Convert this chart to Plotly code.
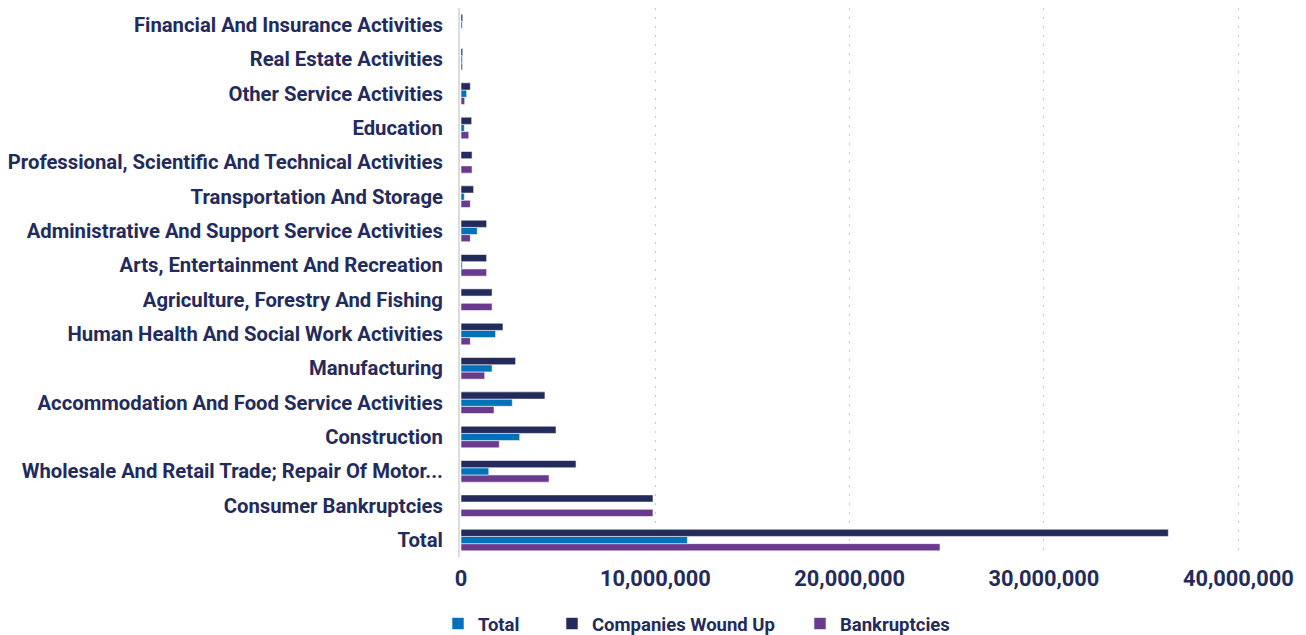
import plotly.graph_objects as go

# Categories listed from the bottom of the chart to the top
categories = [
    "Total",
    "Consumer Bankruptcies",
    "Wholesale And Retail Trade; Repair Of Motor...",
    "Construction",
    "Accommodation And Food Service Activities",
    "Manufacturing",
    "Human Health And Social Work Activities",
    "Agriculture, Forestry And Fishing",
    "Arts, Entertainment And Recreation",
    "Administrative And Support Service Activities",
    "Transportation And Storage",
    "Professional, Scientific And Technical Activities",
    "Education",
    "Other Service Activities",
    "Real Estate Activities",
    "Financial And Insurance Activities",
]

total = [11650000, 0, 1430000, 3020000, 2640000, 1600000, 1780000, 0,
         70000, 840000, 170000, 0, 170000, 290000, 70000, 70000]
companies_wound_up = [36400000, 9880000, 5920000, 4890000, 4320000, 2810000, 2160000, 1600000,
                      1320000, 1320000, 650000, 570000, 550000, 480000, 90000, 90000]
bankruptcies = [24650000, 9880000, 4530000, 1970000, 1700000, 1220000, 480000, 1600000,
                1320000, 480000, 480000, 570000, 400000, 190000, 80000, 0]

x_ticks = [0, 10000000, 20000000, 30000000, 40000000]

NAVY = "#232B5C"
BLUE = "#0072BB"
PURPLE = "#6A3A8E"
FONT = "Roboto"

W, H = 1306, 635
edge = dict(color="rgba(255,255,255,0.55)", width=1)

fig = go.Figure()
# Horizontal groups stack first trace at the bottom: Bankruptcies, Total, Companies Wound Up
fig.add_trace(go.Bar(y=categories, x=bankruptcies, name="Bankruptcies", orientation="h",
                     marker=dict(color=PURPLE, line=edge), legend="legend3"))
fig.add_trace(go.Bar(y=categories, x=total, name="Total", orientation="h",
                     marker=dict(color=BLUE, line=edge), legend="legend"))
fig.add_trace(go.Bar(y=categories, x=companies_wound_up, name="Companies Wound Up", orientation="h",
                     marker=dict(color=NAVY, line=edge), legend="legend2"))

plot_left, plot_right = 460, 1300
plot_top, plot_bottom = 7.8, 557.2
px_per_unit = (1238.3 - 461) / 40000000
x_max = (plot_right - 461) / px_per_unit

legend_common = dict(orientation="h", yanchor="middle", y=(H - 624) / H, xanchor="left",
                     font=dict(family=FONT, size=18.5, color=NAVY, weight="bold"),
                     bgcolor="rgba(0,0,0,0)", borderwidth=0, itemclick=False)

fig.update_layout(
    width=W, height=H,
    margin=dict(l=0, r=0, t=0, b=0, autoexpand=False),
    paper_bgcolor="white", plot_bgcolor="white",
    barmode="group", bargap=0.37, bargroupgap=0,
    font=dict(family=FONT, color=NAVY),
    showlegend=True,
    legend=dict(legend_common, x=(456 - 18) / W),
    legend2=dict(legend_common, x=(570 - 18) / W),
    legend3=dict(legend_common, x=(818 - 18) / W),
    xaxis=dict(
        domain=[plot_left / W, plot_right / W],
        range=[-(461 - plot_left) / px_per_unit, x_max],
        tickvals=x_ticks, tickformat=",d",
        tickfont=dict(family=FONT, size=21.8, color=NAVY, weight="bold"),
        showgrid=True, gridcolor="#c8c8c8", gridwidth=1, griddash="2px,7px",
        zeroline=False, showline=False, ticks="", ticklabelstandoff=6,
        automargin=False, fixedrange=True,
    ),
    yaxis=dict(
        domain=[(H - plot_bottom) / H, (H - plot_top) / H],
        type="category", categoryorder="array", categoryarray=categories,
        tickfont=dict(family=FONT, size=20.3, color=NAVY, weight="bold"),
        showgrid=False, showline=True, linecolor="#dcdcdc", linewidth=2,
        ticks="", ticklabelstandoff=11, automargin=False, fixedrange=True,
    ),
)

fig.write_html("out.html")
